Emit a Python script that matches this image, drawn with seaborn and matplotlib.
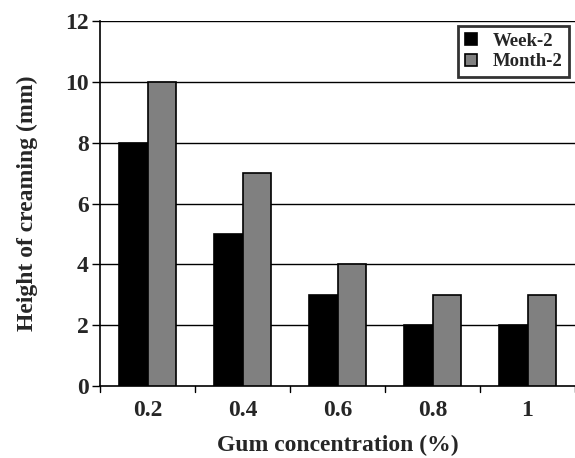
import matplotlib
matplotlib.use("Agg")
import matplotlib.pyplot as plt
import seaborn as sns
import pandas as pd

categories = ["0.2", "0.4", "0.6", "0.8", "1"]
week2 = [8, 5, 3, 2, 2]
month2 = [10, 7, 4, 3, 3]
series_names = ["Week-2", "Month-2"]
y_ticks = [0, 2, 4, 6, 8, 10, 12]

df = pd.DataFrame({
    "cat": categories * 2,
    "val": week2 + month2,
    "series": [series_names[0]] * len(categories) + [series_names[1]] * len(categories),
})

sns.set_style("white")
plt.rcParams['font.family'] = ['Liberation Serif', 'DejaVu Serif']
plt.rcParams['font.weight'] = 'bold'

fig = plt.figure(figsize=(5.75, 4.58), dpi=100)
ax = fig.add_axes([0.174, 0.157, 0.826, 0.797])

sns.barplot(data=df, x="cat", y="val", hue="series", order=categories,
            hue_order=series_names, palette=["#000000", "#808080"],
            width=0.6, edgecolor="black", linewidth=1.2, saturation=1,
            ax=ax, zorder=3)

ax.set_ylim(0, 12)
ax.set_xlim(-0.5, len(categories) - 0.5)
ax.set_yticks(y_ticks)
ax.set_yticklabels([str(t) for t in y_ticks], fontsize=17, fontweight='bold')
ax.set_xticks(range(len(categories)))
ax.set_xticklabels(categories, fontsize=17, fontweight='bold')
ax.tick_params(axis='x', length=0, pad=10)
ax.tick_params(axis='y', direction='out', length=6, width=1, color='black', left=True, pad=2)
for b in [i - 0.5 for i in range(len(categories) + 1)]:
    ax.plot([b, b], [0, -0.2], color='black', lw=1, clip_on=False, zorder=4)

for y in y_ticks[1:]:
    ax.axhline(y, color='black', lw=1, zorder=1)

for s in ["top", "right"]:
    ax.spines[s].set_visible(False)
for s in ["left", "bottom"]:
    ax.spines[s].set_color('black')
    ax.spines[s].set_linewidth(1.2)

ax.set_xlabel("Gum concentration (%)", fontsize=17, fontweight='bold', labelpad=10)
ax.set_ylabel("Height of creaming (mm)", fontsize=17, fontweight='bold', labelpad=20)

leg = ax.legend(loc='upper right', bbox_to_anchor=(0.987, 0.986), borderaxespad=0,
                frameon=True, fancybox=False,
                edgecolor='black', fontsize=13.5, handlelength=0.64, handleheight=0.64,
                handletextpad=0.85, borderpad=0.35, labelspacing=0.2)
leg.get_frame().set_linewidth(2.0)
leg.set_zorder(5)
for t in leg.get_texts():
    t.set_fontweight('bold')

fig.savefig("out.png", dpi=100, facecolor='white')
